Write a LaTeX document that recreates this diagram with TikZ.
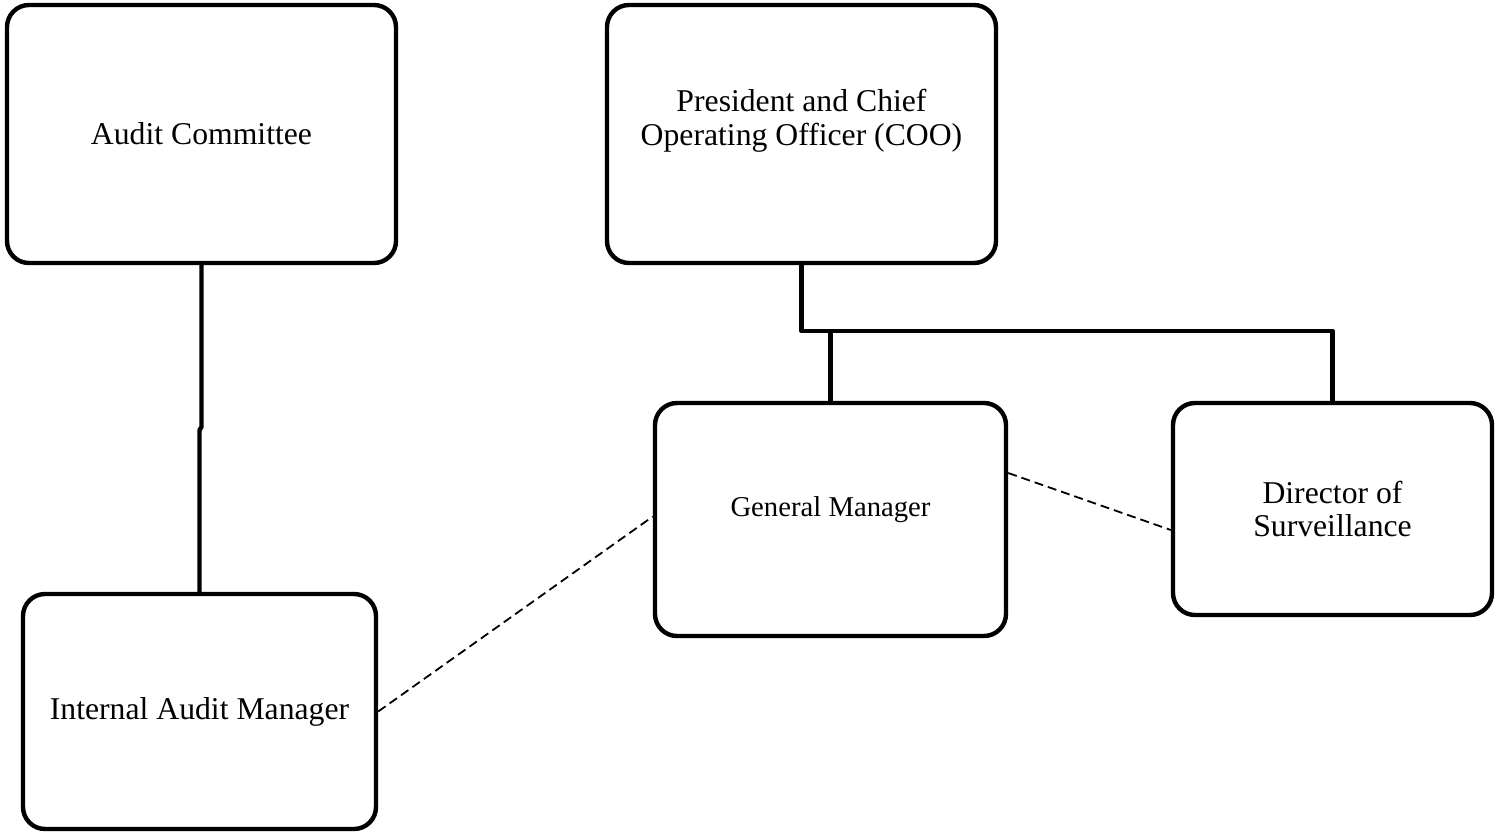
\documentclass[tikz,border=0pt]{standalone}
\usepackage{fontspec}
\setmainfont{Liberation Serif}
\usepackage{tikz}
\usepackage{xcolor}
\usetikzlibrary{positioning}

\begin{document}
\begin{tikzpicture}[
            x=1pt, y=-1pt,
            line join=round,
            font=\fontsize{31.7}{33.5}\selectfont,
            orgbox/.style={shape=rectangle, draw=black, line width=4.4pt, rounded corners=22pt, align=center},
            boxtext/.style={align=center},
            orgline/.style={draw=black, line width=4.4pt},
            dottedlink/.style={draw=black, line width=1.8pt, dash pattern=on 9pt off 5pt}
            ]

            \useasboundingbox (0,0) rectangle (1500,833);

            % Boxes
            \node[orgbox, minimum width=389pt, minimum height=258pt] (ac) at (201.5,134) {Audit Committee};
            \node[orgbox, minimum width=389pt, minimum height=258pt,
                  label={[boxtext, yshift=13pt]center:President and Chief\\Operating Officer (COO)}] (pres) at (801.5,134) {};
            \node[orgbox, minimum width=351pt, minimum height=233pt,
                  label={[boxtext, yshift=9.5pt, font=\fontsize{28.7}{31}\selectfont]center:General Manager}] (gm) at (830.5,519.5) {};
            \node[orgbox, minimum width=319pt, minimum height=212pt] (dir) at (1332.5,509) {Director of\\Surveillance};
            \node[orgbox, minimum width=353pt, minimum height=235pt] (iam) at (199.5,711.5) {Internal Audit Manager};

            % Reporting lines
            \coordinate (jog) at (201.5,427);
            \coordinate (bus) at (801.5,331);
            \draw[orgline] (ac.south) -- (jog) -- ++(-2,3) -- (iam.north);
            \draw[orgline] (pres.south) -- (bus) -| (dir.north);
            \draw[orgline] (gm.north) -- (gm.north |- bus);

            % Dotted lines
            \draw[dottedlink] (iam.east) -- ([yshift=3pt]gm.west);
            \draw[dottedlink] ([yshift=46.5pt]gm.east) -- ([yshift=-21pt]dir.west);
\end{tikzpicture}
\end{document}
